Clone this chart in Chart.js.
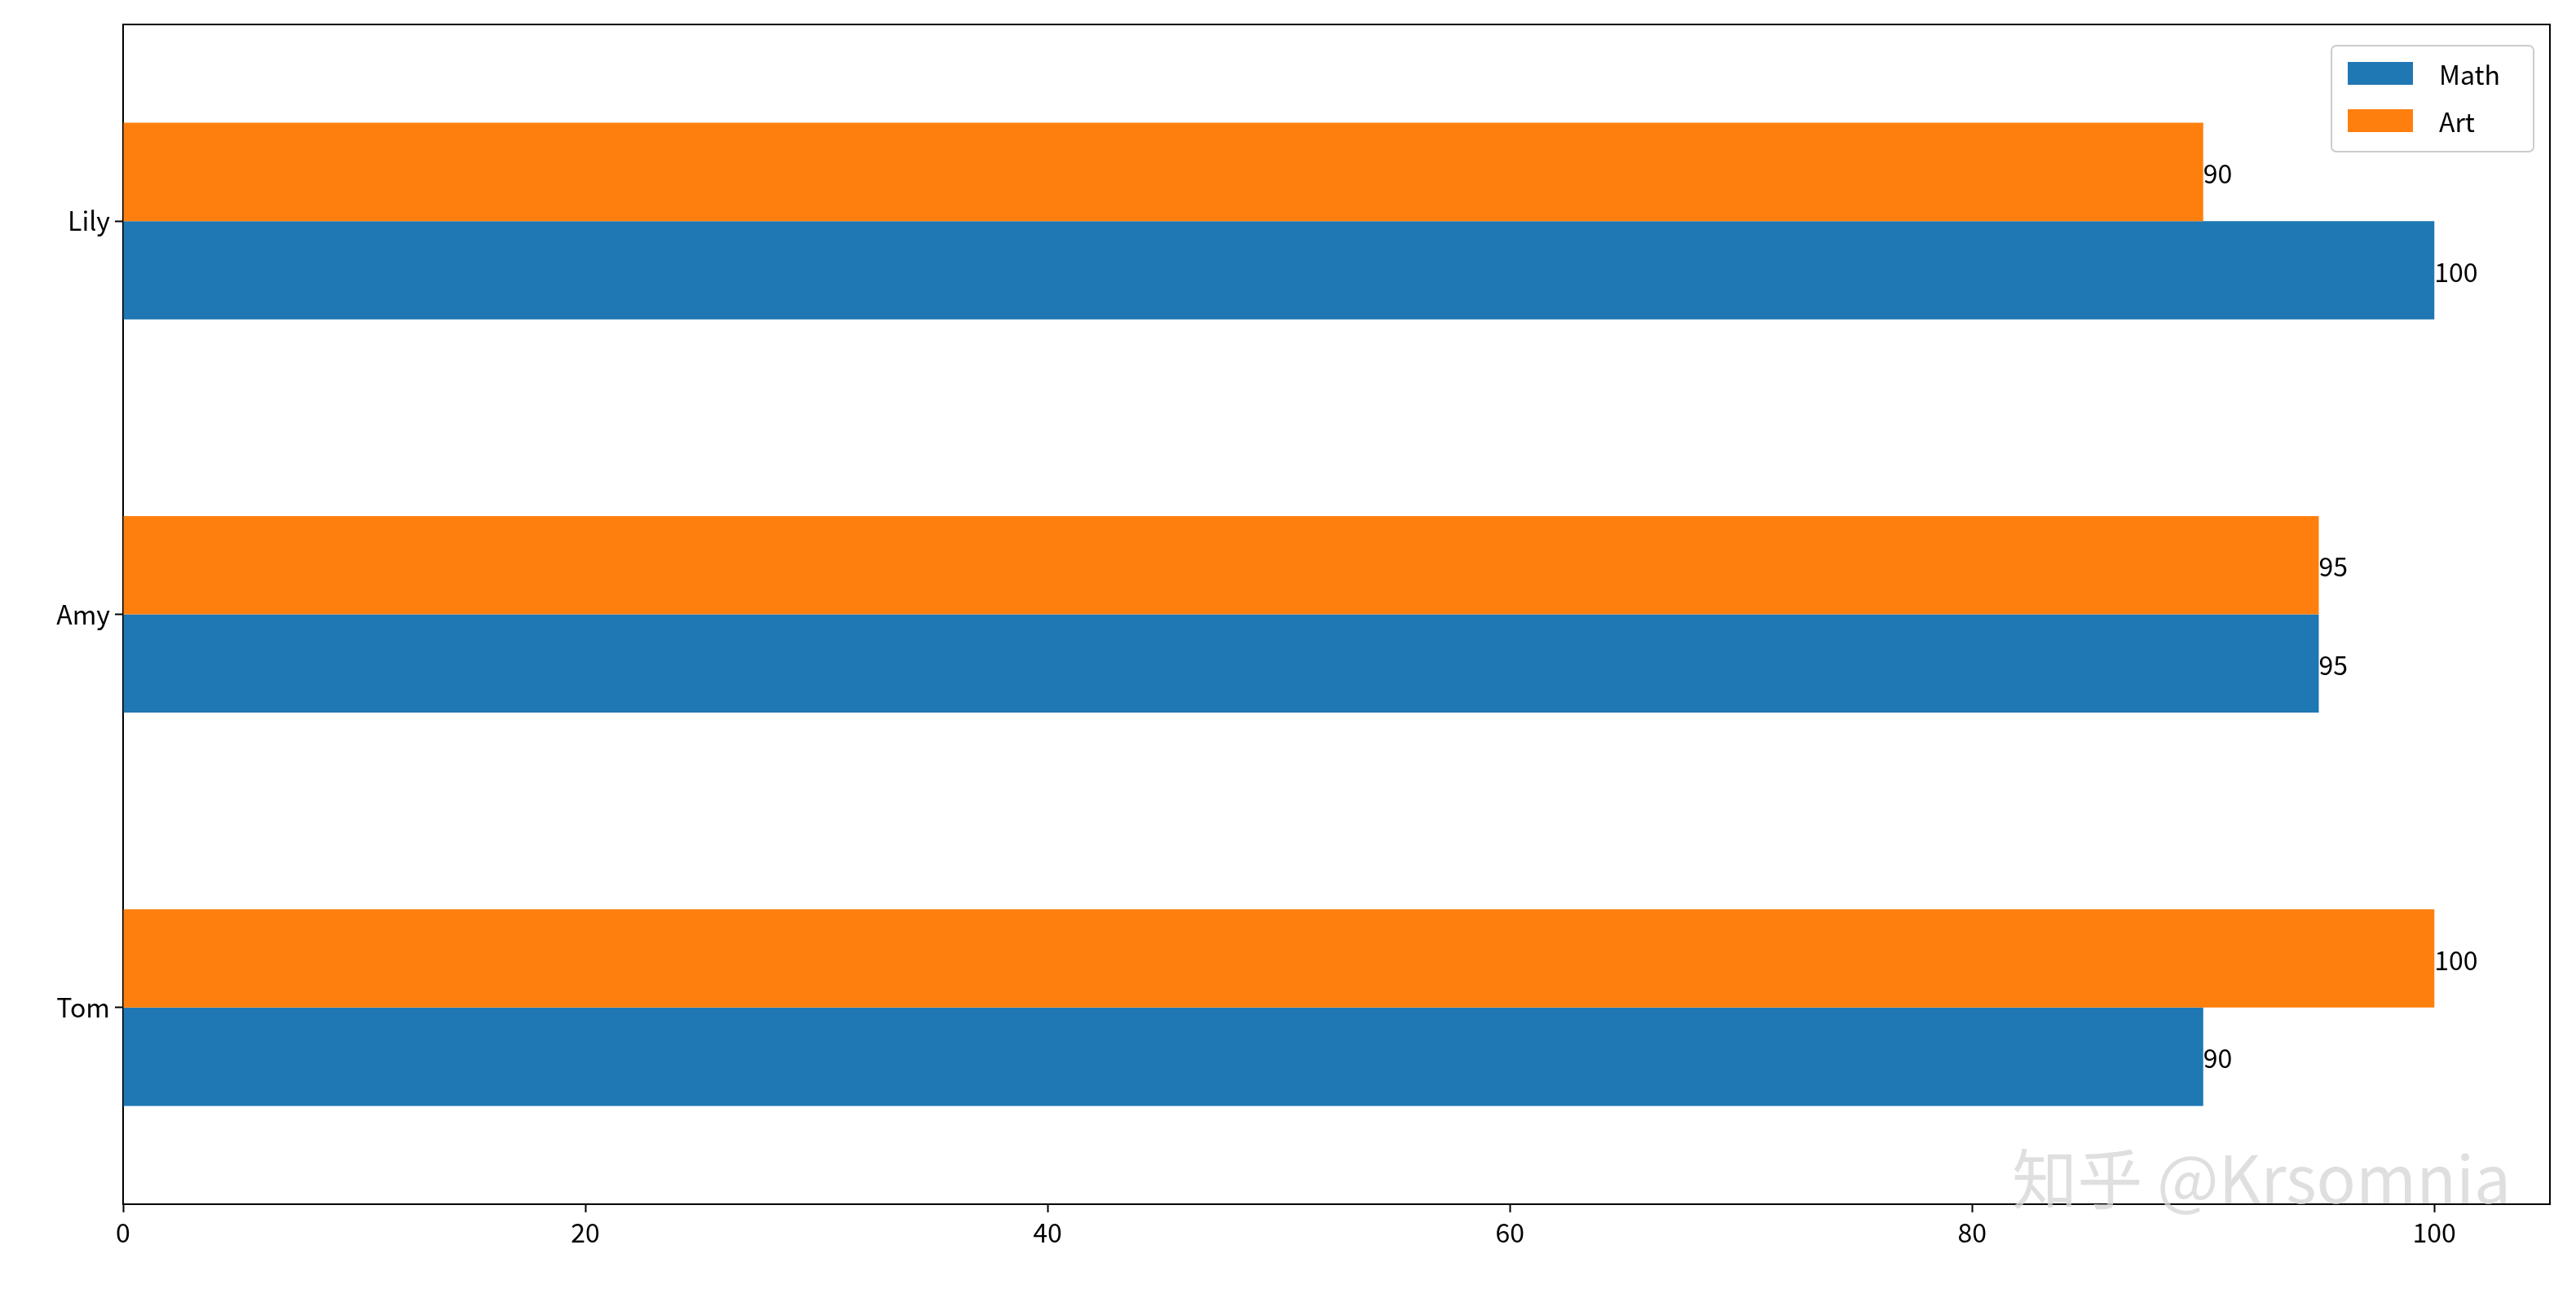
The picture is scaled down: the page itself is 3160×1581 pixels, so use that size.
<!DOCTYPE html>
<html><head><meta charset="utf-8">
<script src="https://cdn.jsdelivr.net/npm/chart.js@4"></script>
<style>html,body{margin:0;padding:0;background:#fff}#w{width:3160px;height:1581px}</style>
</head><body><div id="w"><canvas id="c"></canvas></div>
<script>
const categories = ['Tom', 'Amy', 'Lily'];
const mathScores = [90, 95, 100];
const artScores = [100, 95, 90];
const xTicks = [0, 20, 40, 60, 80, 100];
const seriesNames = ['Math', 'Art'];
const colors = ['#1f77b4', '#ff7f0e'];
const FONT = '"Noto Sans CJK SC", "DejaVu Sans", sans-serif';

const labelPlugin = {
  id: 'labels',
  afterDatasetsDraw(chart) {
    const ctx = chart.ctx;
    ctx.save();
    ctx.font = '32px ' + FONT;
    ctx.fillStyle = '#000';
    ctx.textBaseline = 'middle';
    ctx.textAlign = 'left';
    chart.data.datasets.forEach((ds, i) => {
      chart.getDatasetMeta(i).data.forEach((el, j) => {
        ctx.fillText(String(ds.data[j]), el.x, el.y + 2);
      });
    });
    // legend
    const a = chart.chartArea;
    const bw = 248, bh = 130;
    const bx = a.right - 20 - bw, by = a.top + 26;
    ctx.fillStyle = 'rgba(255,255,255,0.8)';
    ctx.strokeStyle = '#cccccc';
    ctx.lineWidth = 2;
    ctx.beginPath();
    ctx.roundRect(bx, by, bw, bh, 6);
    ctx.fill(); ctx.stroke();
    seriesNames.forEach((n, i) => {
      const yy = by + 34 + i * 58;
      ctx.fillStyle = colors[i];
      ctx.fillRect(bx + 20, yy - 14, 80, 28);
      ctx.fillStyle = '#000';
      ctx.fillText(n, bx + 132, yy + 2);
    });
    // watermark
    ctx.font = '80px ' + FONT;
    ctx.fillStyle = 'rgba(215,215,215,0.8)';
    ctx.textAlign = 'right';
    ctx.fillText('知乎 @Krsomnia', 3080, 1446);
    ctx.restore();
  }
};

new Chart(document.getElementById('c'), {
  type: 'bar',
  data: {
    labels: categories,
    datasets: [
      { label: seriesNames[1], data: artScores, backgroundColor: colors[1] },
      { label: seriesNames[0], data: mathScores, backgroundColor: colors[0] }
    ]
  },
  options: {
    indexAxis: 'y',
    responsive: true, maintainAspectRatio: false, animation: false,
    devicePixelRatio: 1,
    categoryPercentage: 0.5, barPercentage: 1,
    layout: { padding: { top: 30, right: 32, bottom: 0, left: 0 } },
    plugins: { legend: { display: false }, tooltip: { enabled: false } },
    scales: {
      x: {
        min: 0, max: 105,
        afterBuildTicks: s => { s.ticks = xTicks.map(v => ({ value: v })); },
        afterFit: s => { s.height = 104; },
        grid: { display: true, drawOnChartArea: false, drawTicks: true, tickLength: 10, tickColor: '#000', tickWidth: 2 },
        border: { color: '#000', width: 2 },
        ticks: { color: '#000', font: { size: 32, family: FONT }, padding: 6, maxRotation: 0 }
      },
      y: {
        reverse: true, offset: true,
        afterFit: s => { s.width = 151; },
        grid: { display: true, drawOnChartArea: false, offset: false, tickLength: 10, tickColor: '#000', tickWidth: 2 },
        border: { color: '#000', width: 2 },
        ticks: { color: '#000', font: { size: 32, family: FONT }, padding: 6 }
      },
      x2: { position: 'top', display: true, grid: { display: false, drawTicks: false }, ticks: { display: false }, border: { color: '#000', width: 2 }, afterFit: s => { s.height = 0; } },
      y2: { position: 'right', display: true, grid: { display: false, drawTicks: false }, ticks: { display: false }, border: { color: '#000', width: 2 }, afterFit: s => { s.width = 0; } }
    }
  },
  plugins: [labelPlugin]
});
</script></body></html>
